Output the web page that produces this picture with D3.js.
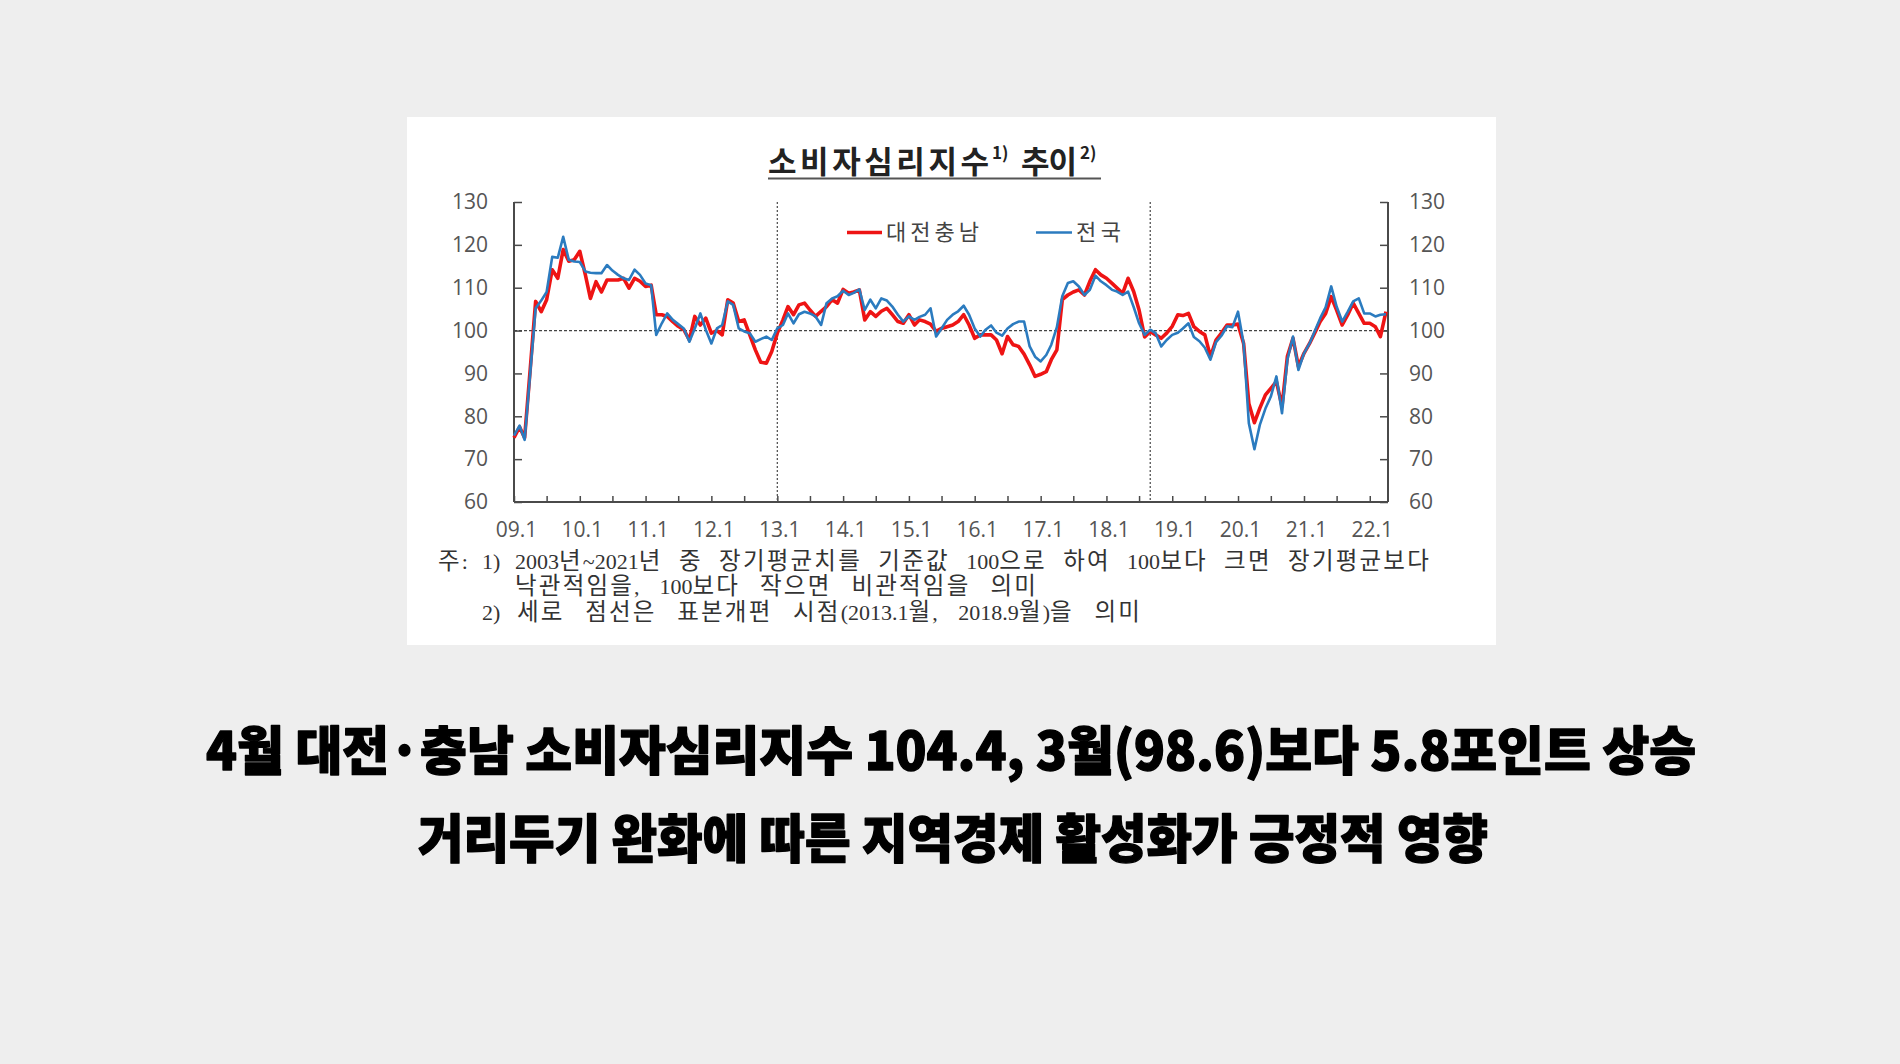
<!DOCTYPE html>
<html><head><meta charset="utf-8">
<script src="https://cdn.jsdelivr.net/npm/d3@7"></script>
<style>
html,body{margin:0;padding:0;background:#eeeeee;}
svg{display:block;}
</style></head>
<body>
<svg id="c" width="1900" height="1064"></svg>
<script>
// ---------------- DATA ----------------
const startMonth = "2009-01";
const seriesNames = ["대전충남", "전국"];
const daejeonChungnam = [
  75.0, 77.5, 75.0, 91.0, 106.8, 104.4, 107.2, 114.2, 112.2, 118.9, 116.2, 116.5,
  118.5, 113.0, 107.5, 111.4, 109.0, 111.8, 111.8, 111.8, 112.2, 109.9, 112.2, 111.5,
  110.3, 110.6, 103.7, 103.7, 103.3, 102.1, 101.0, 100.2, 97.8, 103.3, 101.3, 102.9,
  99.4, 100.0, 99.0, 107.2, 106.4, 102.1, 102.5, 99.0, 95.5, 92.6, 92.4, 95.1,
  99.4, 102.5, 105.6, 103.7, 106.0, 106.4, 104.8, 103.3, 104.5, 105.6, 107.2, 106.4,
  109.6, 108.7, 109.0, 109.5, 102.5, 104.4, 103.3, 104.5, 105.2, 103.7, 102.1, 101.7,
  103.7, 101.3, 102.5, 102.1, 101.5, 99.8, 100.5, 100.9, 101.3, 102.1, 103.7, 101.3,
  98.2, 99.0, 99.0, 99.0, 97.8, 94.6, 98.6, 96.7, 96.3, 94.5, 92.0, 89.3,
  89.8, 90.4, 93.2, 95.5, 107.2, 108.3, 109.0, 109.5, 108.3, 111.5, 114.2, 113.0,
  112.2, 111.0, 109.9, 108.7, 112.2, 109.1, 104.8, 98.5, 99.8, 99.0, 98.2, 99.4,
  101.0, 103.7, 103.5, 104.0, 100.9, 99.8, 99.0, 93.9, 97.8, 99.4, 101.3, 101.3,
  101.5, 97.0, 83.0, 78.5, 81.9, 85.0, 86.5, 88.1, 82.3, 94.0, 98.2, 91.6,
  94.7, 97.0, 99.4, 102.1, 104.0, 107.9, 104.8, 101.3, 103.7, 106.4, 104.0, 101.7,
  101.7, 100.9, 98.6, 104.4
];
const national = [
  75.5, 77.8, 74.5, 90.0, 105.2, 107.0, 109.0, 117.2, 117.0, 121.9, 116.5, 116.1,
  116.0, 113.8, 113.5, 113.4, 113.4, 115.3, 114.0, 113.0, 112.2, 111.8, 114.2, 113.0,
  111.0, 110.6, 99.0, 101.7, 104.0, 102.5, 101.5, 100.5, 97.4, 100.5, 104.0, 100.2,
  97.0, 100.5, 101.3, 106.8, 106.0, 100.5, 99.8, 99.4, 97.4, 98.0, 98.6, 97.8,
  100.5, 101.3, 104.0, 101.7, 103.8, 104.4, 104.0, 103.3, 101.3, 106.4, 107.5, 108.0,
  109.3, 108.3, 108.8, 109.6, 104.8, 107.2, 105.2, 107.5, 107.0, 105.6, 103.7, 102.1,
  103.3, 102.5, 103.2, 103.7, 105.2, 98.6, 100.5, 102.5, 103.7, 104.5, 105.8, 103.7,
  100.5, 98.6, 100.2, 101.2, 99.5, 98.8, 100.5, 101.5, 102.1, 102.1, 96.3, 93.9,
  92.8, 94.3, 96.7, 100.8, 108.0, 111.1, 111.5, 110.3, 108.3, 109.5, 112.8, 111.5,
  110.6, 109.5, 109.1, 108.3, 109.1, 105.5, 101.7, 99.0, 100.2, 99.4, 96.3, 97.8,
  99.0, 99.5, 100.5, 101.7, 98.5, 97.5, 96.0, 93.2, 97.3, 98.8, 101.0, 100.8,
  104.4, 97.0, 78.4, 72.3, 78.0, 81.8, 84.6, 89.3, 80.7, 93.2, 98.6, 90.8,
  94.7, 97.0, 99.8, 102.9, 105.4, 110.3, 105.6, 102.1, 104.4, 106.8, 107.5, 104.0,
  104.0, 103.3, 103.7, 103.8
];
const yTicks = [60, 70, 80, 90, 100, 110, 120, 130];
const xTickLabels = ["09.1","10.1","11.1","12.1","13.1","14.1","15.1","16.1","17.1","18.1","19.1","20.1","21.1","22.1"];
const baseline = 100;
const revisionMonths = ["2013-01", "2018-09"];
const titleMain = "소비자심리지수";
const titleNote1 = "1)";
const titleSub = "추이";
const titleNote2 = "2)";
const notes = [
  {lead: "주:", num: "1)", body: "2003년~2021년 중 장기평균치를 기준값 100으로 하여 100보다 크면 장기평균보다"},
  {lead: "", num: "", body: "낙관적임을, 100보다 작으면 비관적임을 의미"},
  {lead: "", num: "2)", body: "세로 점선은 표본개편 시점(2013.1월, 2018.9월)을 의미"}
];
const headline1 = "4월 대전·충남 소비자심리지수 104.4, 3월(98.6)보다 5.8포인트 상승";
const headline2 = "거리두기 완화에 따른 지역경제 활성화가 긍정적 영향";

// ---------------- CHART ----------------
const parseM = d3.timeParse("%Y-%m");
const t0 = parseM(startMonth);
const dates = daejeonChungnam.map((_, i) => d3.timeMonth.offset(t0, i));
const tEnd = dates[dates.length - 1];

const svg = d3.select("#c");
const RED = "#ee1414", BLUE = "#2b7bbf", AX = "#4a4a4a", TXT = "#555";

// white card
svg.append("rect").attr("x", 407).attr("y", 117).attr("width", 1089).attr("height", 528).attr("fill", "#fff");

const L = 514, R = 1388, T = 202, B = 502;
const x = d3.scaleTime().domain([t0, tEnd]).range([L, 1386]);
const y = d3.scaleLinear().domain([60, 130]).range([B, T]);

// Title
const tg = svg.append("g").attr("font-family", "'Noto Sans CJK KR', sans-serif").attr("fill", "#222").attr("font-weight", 700);
tg.append("text").attr("x", 768).attr("y", 173).attr("font-size", 31)
  .attr("textLength", 221).attr("lengthAdjust", "spacing").text(titleMain);
tg.append("text").attr("x", 992).attr("y", 159).attr("font-size", 17).text(titleNote1);
tg.append("text").attr("x", 1021).attr("y", 173).attr("font-size", 31)
  .attr("textLength", 56).attr("lengthAdjust", "spacing").text(titleSub);
tg.append("text").attr("x", 1080).attr("y", 159).attr("font-size", 17).text(titleNote2);
svg.append("line").attr("x1", 768).attr("x2", 1101).attr("y1", 178.5).attr("y2", 178.5)
  .attr("stroke", "#555").attr("stroke-width", 2);

// Axes
const axisFont = "'Open Sans', 'Noto Sans', sans-serif";
const gl = svg.append("g").attr("transform", `translate(${L},0)`)
  .call(d3.axisLeft(y).tickValues(yTicks).tickSizeInner(-8).tickSizeOuter(0).tickPadding(26));
const gr = svg.append("g").attr("transform", `translate(${R},0)`)
  .call(d3.axisRight(y).tickValues(yTicks).tickSizeInner(-8).tickSizeOuter(0).tickPadding(21));
const halfYearTicks = d3.timeMonth.every(6).range(t0, d3.timeMonth.offset(tEnd, 1));
const yearLabel = d3.timeFormat("%y.1");
const gb = svg.append("g").attr("transform", `translate(0,${B})`)
  .call(d3.axisBottom(x).tickValues(halfYearTicks).tickSizeInner(-6).tickSizeOuter(0).tickPadding(20)
    .tickFormat(d => d.getMonth() === 0 ? xTickLabels[xTickLabels.indexOf(yearLabel(d))] : ""));
[gl, gr, gb].forEach(g => {
  g.select(".domain").remove();
  g.selectAll(".tick line").attr("stroke", AX).attr("stroke-width", 1.5);
  g.selectAll(".tick text").attr("font-family", axisFont).attr("font-size", 21).attr("fill", TXT);
});
gb.selectAll(".tick text").attr("dx", 2);
// Frame lines
svg.append("line").attr("x1", L).attr("x2", L).attr("y1", y(130)).attr("y2", B).attr("stroke", AX).attr("stroke-width", 2);
svg.append("line").attr("x1", R).attr("x2", R).attr("y1", y(130)).attr("y2", B).attr("stroke", AX).attr("stroke-width", 2);
svg.append("line").attr("x1", L).attr("x2", R).attr("y1", B).attr("y2", B).attr("stroke", AX).attr("stroke-width", 2);

// baseline 100
svg.append("line").attr("x1", L).attr("x2", R).attr("y1", y(baseline)).attr("y2", y(baseline))
  .attr("stroke", "#444").attr("stroke-width", 1.3).attr("stroke-dasharray", "3,2");
// revision lines
revisionMonths.forEach(m => {
  const xv = x(parseM(m));
  svg.append("line").attr("x1", xv).attr("x2", xv).attr("y1", y(130)).attr("y2", B)
    .attr("stroke", "#555").attr("stroke-width", 1.3).attr("stroke-dasharray", "2,2");
});

// lines
const line = d3.line().x((d, i) => x(dates[i])).y(d => y(d));
svg.append("path").datum(daejeonChungnam).attr("d", line).attr("fill", "none")
  .attr("stroke", RED).attr("stroke-width", 3.6).attr("stroke-linejoin", "round");
svg.append("path").datum(national).attr("d", line).attr("fill", "none")
  .attr("stroke", BLUE).attr("stroke-width", 2.6).attr("stroke-linejoin", "round");

// legend
const lg = svg.append("g").attr("font-family", "'Noto Sans CJK KR', sans-serif").attr("font-size", 22).attr("fill", "#444");
[[RED, 3.6, 847, 882, 886, 93, seriesNames[0]], [BLUE, 2.6, 1036, 1072, 1076, 45, seriesNames[1]]].forEach(([c, w, a, b, tx, tl, name]) => {
  lg.append("line").attr("x1", a).attr("x2", b).attr("y1", 232.5).attr("y2", 232.5).attr("stroke", c).attr("stroke-width", w);
  lg.append("text").attr("x", tx).attr("y", 240).attr("textLength", tl).attr("lengthAdjust", "spacing").text(name);
});

// notes
const noteFont = "'Liberation Serif', 'Noto Sans CJK KR', serif";
const ng = svg.append("g").attr("font-family", noteFont).attr("font-size", 22).attr("fill", "#333");
const noteY = [569, 594, 620];
const bodyX = [515, 515, 517];
const bodyEnd = [1431, 1038, 1142];
function richText(sel, str) {
  str.split(/([가-힣]+)/).filter(s => s.length).forEach(part => {
    const ts = sel.append("tspan").text(part);
    if (/[가-힣]/.test(part)) ts.attr("font-size", 23.5).attr("letter-spacing", 2.2);
  });
  return sel;
}
notes.forEach((n, i) => {
  if (n.lead) richText(ng.append("text").attr("x", 438).attr("y", noteY[i]), n.lead);
  if (n.num) ng.append("text").attr("x", 482).attr("y", noteY[i]).text(n.num);
  const t = richText(ng.append("text").attr("x", bodyX[i]).attr("y", noteY[i]), n.body);
  const natural = t.node().getComputedTextLength();
  const nSp = (n.body.match(/ /g) || []).length;
  const target = bodyEnd[i] - bodyX[i];
  if (nSp > 0) t.attr("word-spacing", (target - natural) / nSp);
});

// headlines
const hg = svg.append("g").attr("font-family", "'Noto Sans CJK KR', sans-serif").attr("font-weight", 900)
  .attr("fill", "#000").attr("stroke", "#000").attr("stroke-width", 1.4).attr("stroke-linejoin", "round")
  .attr("text-anchor", "middle");
hg.append("text").attr("x", 951).attr("y", 770).attr("font-size", 52)
  .attr("textLength", 1490).attr("lengthAdjust", "spacingAndGlyphs").text(headline1);
hg.append("text").attr("x", 953).attr("y", 858).attr("font-size", 52)
  .attr("textLength", 1070).attr("lengthAdjust", "spacingAndGlyphs").text(headline2);
</script>
</body></html>
